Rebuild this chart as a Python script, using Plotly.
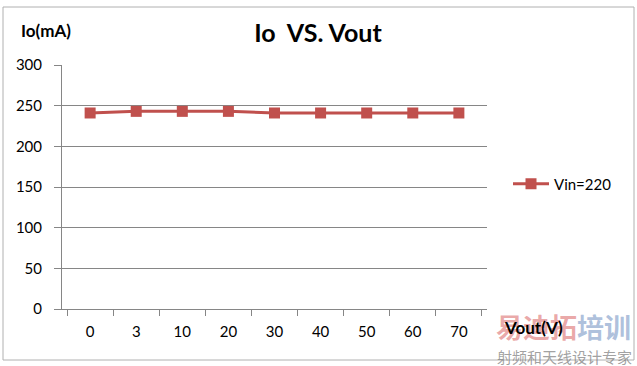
import plotly.graph_objects as go

categories = ["0", "3", "10", "20", "30", "40", "50", "60", "70"]
io_ma = [241, 243, 243, 243, 241, 241, 241, 241, 241]
y_ticks = [0, 50, 100, 150, 200, 250, 300]

fig = go.Figure()
fig.add_trace(go.Scatter(
    x=categories, y=io_ma, mode="lines+markers", name="Vin=220",
    line=dict(color="#C0504D", width=3),
    marker=dict(symbol="square", size=11, color="#C0504D"),
))

font = "Lato, Open Sans, sans-serif"
W = 425.0
H = 244.0
def px(x):
    return (x - 62) / W
def py(y):
    return (309 - y) / H

fig.update_layout(
    width=637, height=366,
    margin=dict(l=62, r=150, t=65, b=57),
    paper_bgcolor="white", plot_bgcolor="white",
    font=dict(family=font, size=15, color="#000"),
    title=dict(text="<b>Io  VS. Vout</b>", x=318/637, xref="container", xanchor="center",
               y=1 - 33/366, yref="container", yanchor="middle",
               font=dict(size=25, family=font, color="#000")),
    showlegend=True,
    legend=dict(x=px(508), xref="paper", xanchor="left", y=py(184), yanchor="middle",
                font=dict(size=15, family=font), itemwidth=36, bgcolor="rgba(0,0,0,0)"),
    xaxis=dict(type="category", showgrid=False, showline=True, linecolor="#868686",
               ticks="outside", tickson="boundaries", ticklen=6, tickcolor="#868686",
               ticklabelstandoff=9,
               tickfont=dict(size=15, family=font), zeroline=False),
    yaxis=dict(range=[0, 300], tickvals=y_ticks, showgrid=True, gridcolor="#868686",
               showline=True, linecolor="#868686", ticks="outside", ticklen=7,
               ticklabelstandoff=9,
               tickcolor="#868686", tickfont=dict(size=15, family=font), zeroline=False),
    shapes=[dict(type="rect", xref="x domain", yref="y domain",
                 x0=px(3), x1=px(634), y0=py(360), y1=py(7),
                 line=dict(color="#B0B0B0", width=1), layer="below")],
    annotations=[
        dict(text="<b>Io(mA)</b>", xref="x domain", yref="y domain", x=px(19), y=py(31),
             showarrow=False, xanchor="left", yanchor="middle", font=dict(size=17, family=font)),
        dict(text="<b><span style='color:rgba(225,130,130,0.7)'>易迪拓</span>"
                  "<span style='color:rgba(140,165,205,0.7)'>培训</span></b>",
             xref="x domain", yref="y domain",
             x=px(633), y=py(326), showarrow=False, xanchor="right", yanchor="middle",
             font=dict(size=27, family="Noto Sans CJK SC")),
        dict(text="<b>Vout(V)</b>", xref="x domain", yref="y domain",
             x=px(502), y=py(327), showarrow=False, xanchor="left", yanchor="middle",
             font=dict(size=17, family=font)),
        dict(text="射频和天线设计专家", xref="x domain", yref="y domain",
             x=px(634), y=py(356), showarrow=False, xanchor="right", yanchor="middle",
             font=dict(size=15, family="Noto Sans CJK SC", color="rgba(120,120,120,0.7)")),
    ],
)
fig.write_html("out.html")
